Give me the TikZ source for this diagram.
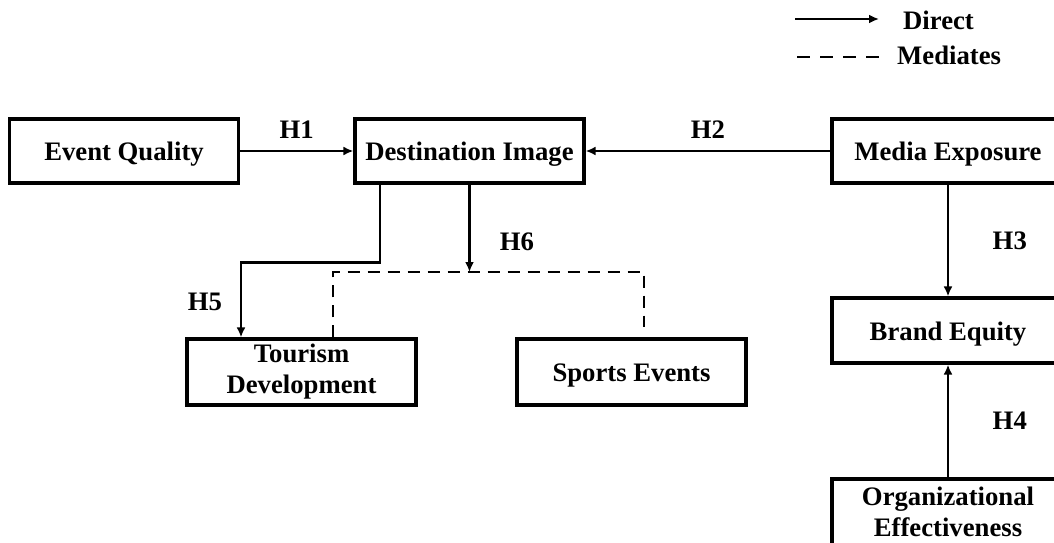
\documentclass[tikz,border=0pt]{standalone}
\usepackage{fontspec}
\setmainfont{Liberation Serif}
\usepackage{tikz}
\usetikzlibrary{arrows.meta}

\begin{document}
\begin{tikzpicture}[x=1pt, y=-1pt,
        every node/.style={font=\fontsize{26.7}{31}\selectfont\bfseries},
        box/.style={draw, line width=3.2pt, rectangle, inner sep=0pt, minimum width=229pt, minimum height=64pt, align=center},
        oneline/.style={text height=19pt, text depth=0pt},
        link/.style={line width=2.8pt, -{Latex[length=10pt,width=9pt]}},
        med/.style={line width=2.8pt, dash pattern=on 12pt off 8pt}]
        \useasboundingbox (0,0) rectangle (1054,543);
        % boxes
        \node[box, oneline] (quality) at (124,151) {Event Quality};
        \node[box, oneline] (image) at (469.5,151) {Destination Image};
        \node[box, oneline, minimum width=232pt] (media) at (948,151) {Media Exposure};
        \node[box, oneline, minimum width=232pt, minimum height=65pt] (brand) at (948,330.5) {Brand Equity};
        \node[box, minimum width=232pt, minimum height=66pt] (org) at (948,512) {Organizational\\Effectiveness};
        \node[box, minimum height=66pt] (tourism) at (301.5,372) {Tourism\\Development};
        \node[box, oneline, minimum height=66pt] (sports) at (631.5,372) {Sports Events};
        \coordinate (mid) at (469.5,272);
        % direct paths
        \draw[link] (quality) -- (image) node[pos=0.5, above=8pt] {H1};
        \draw[link] (media) -- (image) node[pos=0.5, above=8pt] {H2};
        \draw[link] (media) -- (brand) node[pos=0.5, right=40pt] {H3};
        \draw[link] (org) -- (brand) node[pos=0.5, right=40pt] {H4};
        \draw[link] ([xshift=-89.5pt]image.south) -- ++(0,78) -| ([xshift=-60.5pt]tourism.north);
        \node (h5) at (205,302) {H5};
        \draw[link] (image.south) -- (mid);
        \node (h6) at (517,242) {H6};
        % mediation
        \draw[med] ([xshift=31.5pt]tourism.north) |- (mid) -| ([xshift=12.5pt,yshift=10pt]sports.north);
        % legend
        \coordinate (d1) at (795,19);
        \coordinate (d2) at (879,19);
        \coordinate (m1) at (797,57);
        \coordinate (m2) at (880,57);
        \draw[link] (d1) -- (d2);
        \draw[med, dash pattern=on 13pt off 10pt] (m1) -- (m2);
        \node[anchor=base west, inner sep=0pt] (direct) at (903,30) {Direct};
        \node[anchor=base west, inner sep=0pt] (mediates) at (897,64) {Mediates};
    \end{tikzpicture}
\end{document}
